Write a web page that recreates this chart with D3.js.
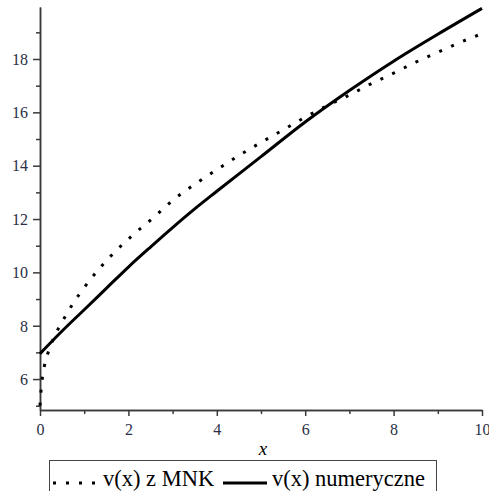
<!DOCTYPE html>
<html>
<head>
<meta charset="utf-8">
<script src="https://cdn.jsdelivr.net/npm/d3@7"></script>
<style>
  body { margin: 0; background: #fff; }
  svg { display: block; }
  .axis path, .axis line { stroke: #3a3a3a; stroke-width: 1.5; }
  .axis text { font-family: "Liberation Serif", "Times New Roman", "DejaVu Serif", serif; font-size: 16px; fill: #2a2f45; }
  .serif { font-family: "Liberation Serif", "Times New Roman", "DejaVu Serif", serif; }
</style>
</head>
<body>
<svg width="489" height="491"></svg>
<script>
// v(x) z MNK (least squares fit, dotted)
var mnkX = [0, 0.02, 0.05, 0.1, 0.2, 0.3, 0.45, 0.6, 0.75, 1.0, 1.3, 1.7, 2.1, 2.6, 3.0, 3.5,
            4.0, 4.5, 5.0, 5.5, 6.0, 6.5, 7.0, 7.5, 8.0, 8.5, 9.0, 9.5, 10];
var mnkY = [5.0, 5.5, 6.0, 6.5, 7.07, 7.5, 8.0, 8.43, 8.84, 9.43, 10.06, 10.78, 11.4, 12.1, 12.7, 13.3,
            13.85, 14.38, 14.87, 15.34, 15.82, 16.25, 16.65, 17.08, 17.47, 17.88, 18.25, 18.62, 18.95];
// v(x) numeryczne (solid)
var numX = [0, 0.5, 1, 1.5, 2, 2.5, 3, 3.5, 4, 5, 6, 7, 8, 9, 10];
var numY = [6.95, 7.8, 8.6, 9.4, 10.2, 10.95, 11.68, 12.38, 13.04, 14.34, 15.64, 16.82, 17.92, 18.93, 19.9];

var xMajor = [0, 2, 4, 6, 8, 10], xMinor = [1, 3, 5, 7, 9];
var yMajor = [6, 8, 10, 12, 14, 16, 18], yMinor = [5, 7, 9, 11, 13, 15, 17, 19];

var svg = d3.select("svg");

var x = d3.scaleLinear().domain([0, 10]).range([40, 482]),
    y = d3.scaleLinear().domain([4.84, 19.95]).range([410, 7]);

// x axis
svg.append("g").attr("class", "axis")
    .attr("transform", "translate(0,410)")
    .call(d3.axisBottom(x).tickValues(xMinor).tickSize(4).tickFormat("").tickSizeOuter(0));
var gx = svg.append("g").attr("class", "axis")
    .attr("transform", "translate(0,410)")
    .call(d3.axisBottom(x).tickValues(xMajor).tickSize(6).tickSizeOuter(0));
gx.attr("font-family", null);
gx.selectAll("text").attr("dy", null).attr("y", 25);

// y axis
svg.append("g").attr("class", "axis")
    .attr("transform", "translate(40,0)")
    .call(d3.axisLeft(y).tickValues(yMinor).tickSize(4).tickFormat("").tickSizeOuter(0));
var gy = svg.append("g").attr("class", "axis")
    .attr("transform", "translate(40,0)")
    .call(d3.axisLeft(y).tickValues(yMajor).tickSize(7).tickSizeOuter(0).tickPadding(5));
gy.attr("font-family", null);
gy.selectAll("text").attr("dy", "0.33em");

// axis label
svg.append("text")
    .attr("class", "serif")
    .attr("x", 263).attr("y", 455)
    .attr("text-anchor", "middle")
    .attr("font-style", "italic")
    .attr("font-size", "19px")
    .text("x");

var line = d3.line()
    .x(function (d) { return x(d[0]); })
    .y(function (d) { return y(d[1]); })
    .curve(d3.curveMonotoneX);

var mnk = mnkX.map(function (v, i) { return [v, mnkY[i]]; });
var num = numX.map(function (v, i) { return [v, numY[i]]; });

svg.append("path")
    .datum(num)
    .attr("d", line)
    .attr("fill", "none")
    .attr("stroke", "#000")
    .attr("stroke-width", 3);

svg.append("path")
    .datum(mnk)
    .attr("d", line)
    .attr("fill", "none")
    .attr("stroke", "#000")
    .attr("stroke-width", 3)
    .attr("stroke-dasharray", "3,10");

// legend
var lg = svg.append("g");
lg.append("rect")
    .attr("x", 49.5).attr("y", 460.5)
    .attr("width", 387).attr("height", 40)
    .attr("fill", "none")
    .attr("stroke", "#444")
    .attr("stroke-width", 1);
lg.append("line")
    .attr("x1", 53).attr("x2", 98).attr("y1", 483).attr("y2", 483)
    .attr("stroke", "#000").attr("stroke-width", 3)
    .attr("stroke-dasharray", "3,10");
lg.append("text")
    .attr("class", "serif")
    .attr("x", 103).attr("y", 486)
    .attr("font-size", "22.5px")
    .text("v(x) z MNK");
lg.append("line")
    .attr("x1", 223).attr("x2", 267).attr("y1", 483).attr("y2", 483)
    .attr("stroke", "#000").attr("stroke-width", 3);
lg.append("text")
    .attr("class", "serif")
    .attr("x", 272).attr("y", 486)
    .attr("font-size", "22.5px")
    .text("v(x) numeryczne");
</script>
</body>
</html>
